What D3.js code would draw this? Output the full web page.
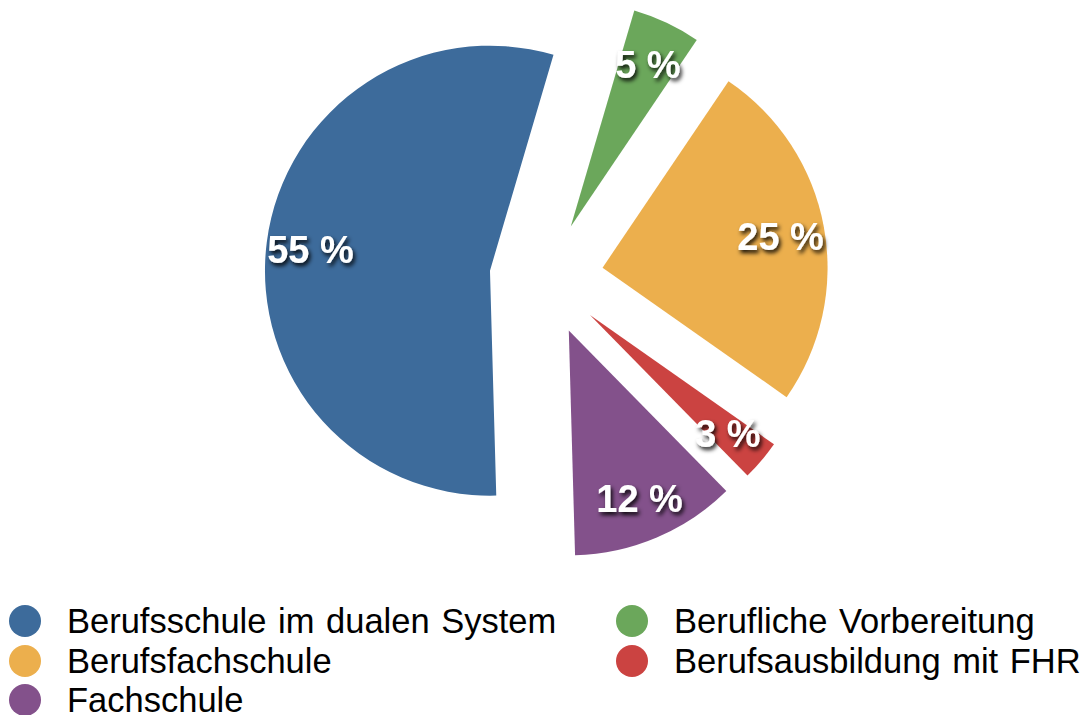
<!DOCTYPE html>
<html>
<head>
<meta charset="utf-8">
<script src="https://cdn.jsdelivr.net/npm/d3@7"></script>
<style>
  body { margin: 0; background: #fff; }
  svg { display: block; }
</style>
</head>
<body>
<script>
// Daten: Anteile der Schularten (im Uhrzeigersinn)
const categories = [
  "Berufsschule im dualen System",
  "Berufliche Vorbereitung",
  "Berufsfachschule",
  "Berufsausbildung mit FHR",
  "Fachschule"
];
const values = [55.0, 4.9, 25.3, 2.9, 11.9];
const labels = ["55 %", "5 %", "25 %", "3 %", "12 %"];
const colors = ["#3d6b9b", "#6ba75b", "#ecaf4d", "#cb4341", "#83518b"];
// Legende: zwei Spalten, zeilenweise gefüllt
const legendOrder = [0, 1, 2, 3, 4];

const width = 1087;
const height = 715;
const cx = 546.5, cy = 278;
const radius = 225;
const explode = 57;

const svg = d3.select("body").append("svg")
  .attr("width", width)
  .attr("height", height);

// Schatten für die Prozentwerte
const filter = svg.append("defs").append("filter")
  .attr("id", "shadow")
  .attr("x", "-30%").attr("y", "-30%")
  .attr("width", "160%").attr("height", "160%");
filter.append("feDropShadow")
  .attr("dx", 2).attr("dy", 3)
  .attr("stdDeviation", 2.2)
  .attr("flood-color", "#000")
  .attr("flood-opacity", 0.9);

const start = 178.4 * Math.PI / 180;
const pie = d3.pie()
  .sort(null)
  .value(d => d)
  .startAngle(start)
  .endAngle(start + 2 * Math.PI);

const arcs = pie(values);

const arc = d3.arc().innerRadius(0).outerRadius(radius);
const labelArc = d3.arc().innerRadius(181).outerRadius(181);

const g = svg.append("g").attr("transform", `translate(${cx},${cy})`);

// Verschiebung jedes Segments entlang seines Mittelwinkels
function shift(d) {
  const m = (d.startAngle + d.endAngle) / 2;
  return [explode * Math.sin(m), -explode * Math.cos(m)];
}

const slices = g.selectAll("g.slice")
  .data(arcs)
  .join("g")
  .attr("class", "slice")
  .attr("transform", d => `translate(${shift(d)})`);

slices.append("path")
  .attr("d", arc)
  .attr("fill", (d, i) => colors[i]);

slices.append("text")
  .attr("transform", d => `translate(${labelArc.centroid(d)})`)
  .attr("text-anchor", "middle")
  .attr("dy", "0.4em")
  .attr("fill", "#fff")
  .attr("font-family", "'Liberation Sans', Arial, Helvetica, sans-serif")
  .attr("font-weight", "bold")
  .attr("font-size", 38)
  .attr("filter", "url(#shadow)")
  .text((d, i) => labels[i]);

// Legende
const legend = svg.append("g");
const colX = [25, 632];
const rowY = [621, 661, 700];

const items = legend.selectAll("g.item")
  .data(legendOrder)
  .join("g")
  .attr("class", "item")
  .attr("transform", (d, k) => `translate(${colX[k % 2]},${rowY[Math.floor(k / 2)]})`);

items.append("circle")
  .attr("r", 16)
  .attr("fill", d => colors[d]);

items.append("text")
  .attr("x", 42)
  .attr("dy", "0.36em")
  .attr("fill", "#000")
  .attr("font-family", "'Liberation Sans', Arial, Helvetica, sans-serif")
  .attr("font-size", 34.5)
  .attr("word-spacing", 2)
  .text(d => categories[d]);
</script>
</body>
</html>
